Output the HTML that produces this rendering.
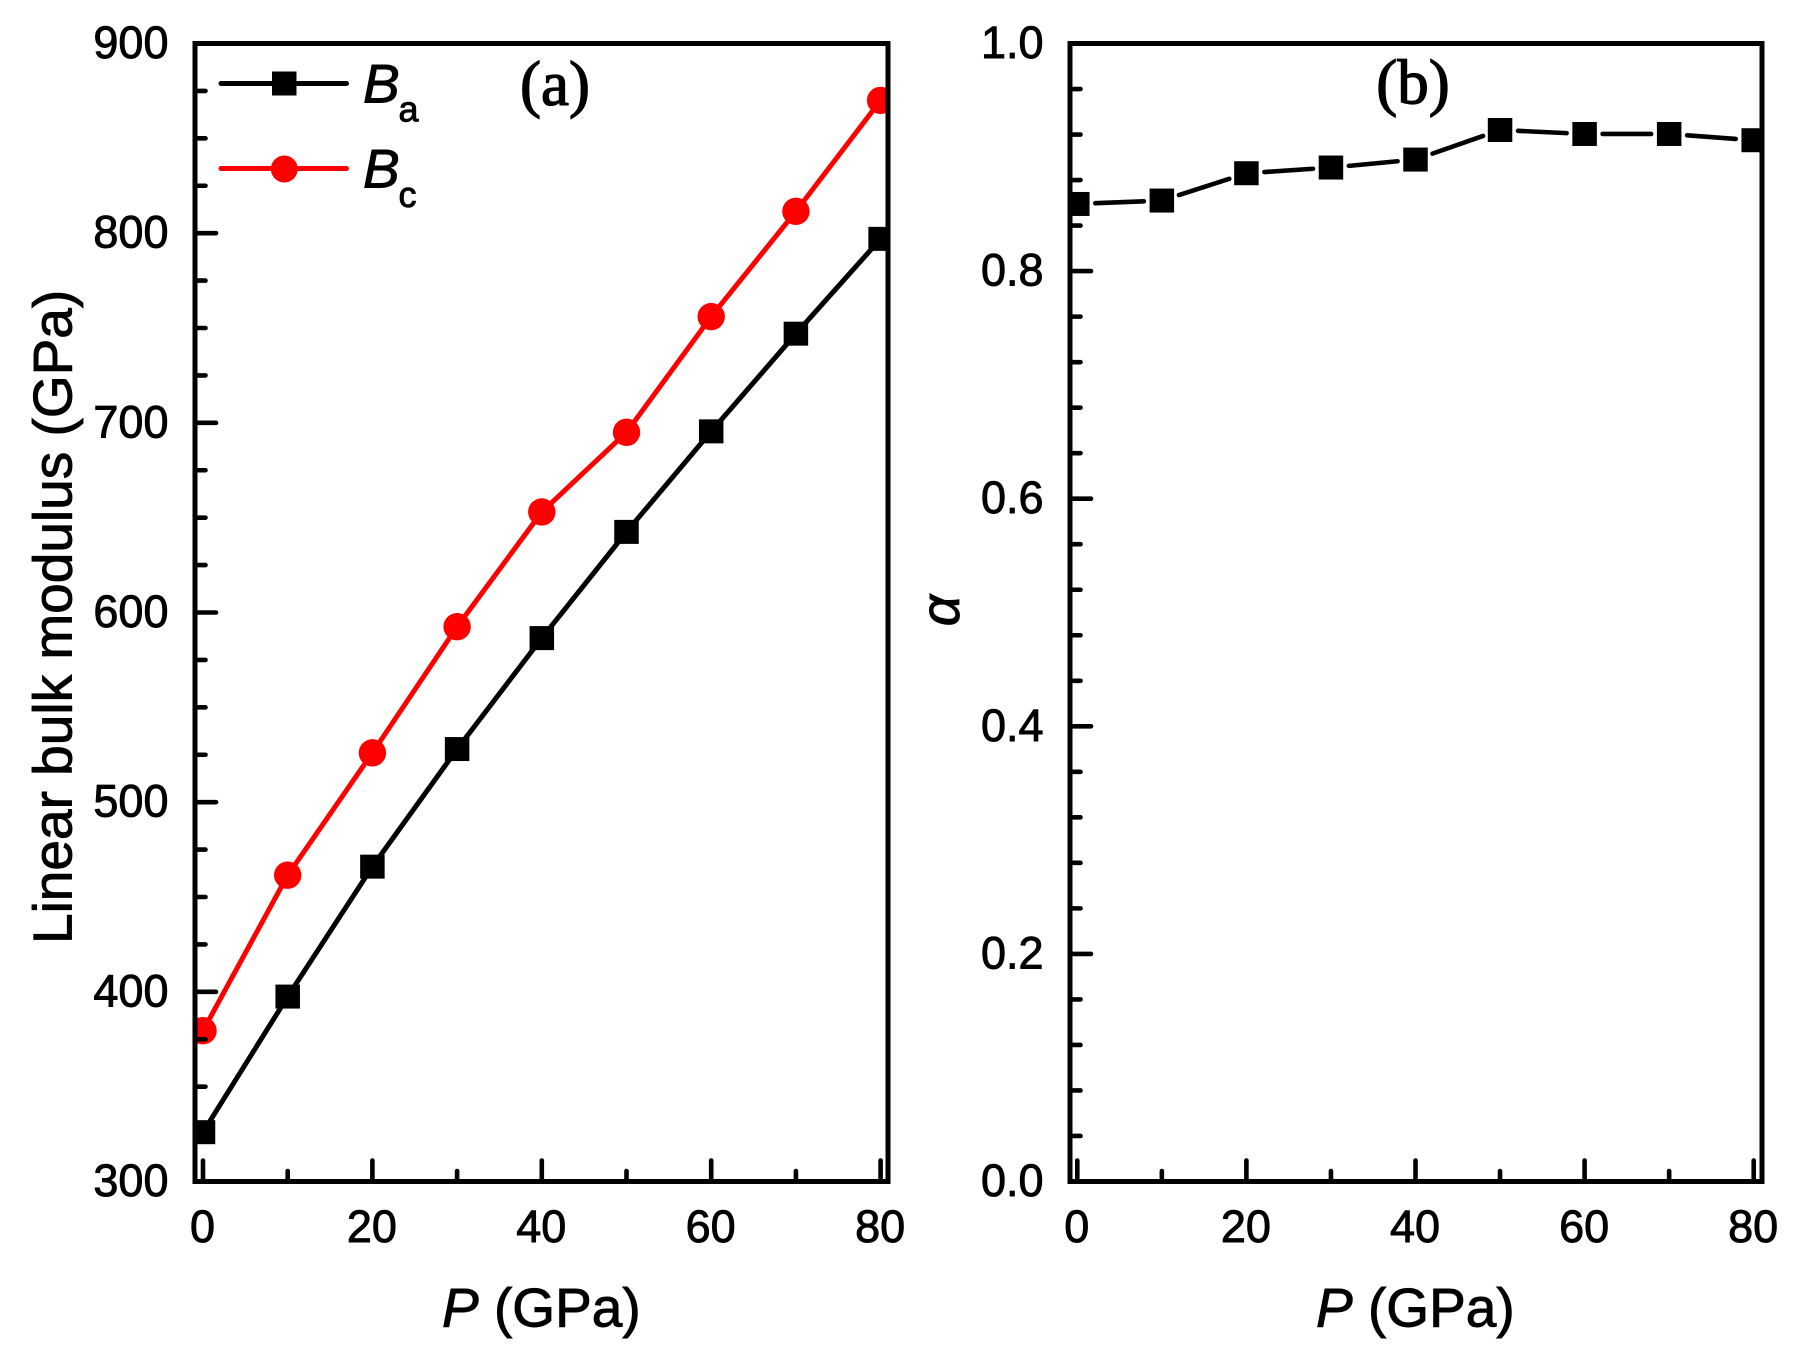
<!DOCTYPE html>
<html lang="en">
<head>
<meta charset="utf-8">
<title>Linear bulk modulus and alpha versus pressure</title>
<style>
html,body{margin:0;padding:0;background:#fff;}
svg{display:block;}
text{font-family:"Liberation Sans",Arial,sans-serif;fill:#000;stroke:#000;stroke-width:0.9px;}
.serif{font-family:"Liberation Serif","Times New Roman",serif;stroke-width:1.3px;}
.tick-label{font-size:45px;}
.axis-title{font-size:55px;}
</style>
</head>
<body>
<svg id="chart" xmlns="http://www.w3.org/2000/svg" width="1794" height="1361" viewBox="0 0 1794 1361">
  <defs>
    <clipPath id="clip-a"><rect x="195" y="43.5" width="693" height="1138"/></clipPath>
    <clipPath id="clip-b"><rect x="1070" y="43.5" width="692" height="1138"/></clipPath>
  </defs>
  <g id="panel-a"></g>
  <g id="panel-b"></g>

  <text class="axis-title" transform="translate(71.5,944) rotate(-90)">Linear bulk modulus (GPa)</text>
  <text class="axis-title" x="442" y="1326.5"><tspan font-style="italic">P</tspan> (GPa)</text>
  <text class="serif" font-size="63" x="555" y="105" text-anchor="middle">(a)</text>

  <text class="axis-title" font-style="italic" text-anchor="middle" transform="translate(959,610.5) rotate(-90)">α</text>
  <text class="axis-title" x="1316" y="1326.5"><tspan font-style="italic">P</tspan> (GPa)</text>
  <text class="serif" font-size="63" x="1413" y="103.5" text-anchor="middle">(b)</text>

  <g>
    <g>
      <line x1="221" y1="83.5" x2="346.5" y2="83.5" stroke="#000" stroke-width="5" stroke-linecap="round"/>
      <rect x="272" y="71.5" width="24.5" height="24" fill="#000"/>
      <text x="363" y="102.5" font-size="55" font-style="italic">B</text>
      <text x="398.5" y="121.5" font-size="36">a</text>
    </g>
    <g>
      <line x1="221" y1="168.5" x2="346.5" y2="168.5" stroke="#f00" stroke-width="5" stroke-linecap="round"/>
      <circle cx="284.3" cy="169" r="13.5" fill="#f00"/>
      <text x="363" y="187.5" font-size="55" font-style="italic">B</text>
      <text x="398.5" y="207" font-size="36">c</text>
    </g>
  </g>
</svg>
<script>
const pressures = [0, 10, 20, 30, 40, 50, 60, 70, 80];
const bulkModulusA = [326, 397.5, 466, 528, 586.5, 642.5, 695.5, 747, 797];
const bulkModulusC = [379.5, 461.5, 526, 592.5, 653, 695, 756, 811.5, 870];
const alphaValues = [0.859, 0.862, 0.886, 0.891, 0.898, 0.924, 0.9205, 0.9205, 0.915];
const xMajorTicks = [0, 20, 40, 60, 80];
const xMinorTicks = [10, 30, 50, 70];
const yMajorTicksA = [300, 400, 500, 600, 700, 800, 900];
const yMinorTicksA = [325, 350, 375, 425, 450, 475, 525, 550, 575, 625, 650, 675, 725, 750, 775, 825, 850, 875];
const yMajorTicksB = [0, 0.2, 0.4, 0.6, 0.8, 1];
const yMinorTicksB = [0.04, 0.08, 0.12, 0.16, 0.24, 0.28, 0.32, 0.36, 0.44, 0.48, 0.52, 0.56, 0.64, 0.68, 0.72, 0.76, 0.84, 0.88, 0.92, 0.96];
const yLabelsB = ['0.0', '0.2', '0.4', '0.6', '0.8', '1.0'];

const NS = 'http://www.w3.org/2000/svg';
const Y_TOP = 43.5, Y_BOTTOM = 1181.5;

function xA(v) { return 203 + v * 8.47; }
function xB(v) { return 1077.3 + v * 8.455; }
function yA(v) { return Y_BOTTOM - (v - 300) * (Y_BOTTOM - Y_TOP) / 600; }
function yB(v) { return Y_BOTTOM - v * (Y_BOTTOM - Y_TOP); }

function make(tag, parent) {
  const el = document.createElementNS(NS, tag);
  parent.appendChild(el);
  return el;
}
function setLine(el, x1, y1, x2, y2, color, width) {
  el.setAttribute('x1', x1);
  el.setAttribute('y1', y1);
  el.setAttribute('x2', x2);
  el.setAttribute('y2', y2);
  el.setAttribute('stroke', color);
  el.setAttribute('stroke-width', width);
  el.setAttribute('stroke-linecap', 'round');
}
function setSquare(el, cx, cy) {
  el.setAttribute('x', cx - 12.25);
  el.setAttribute('y', cy - 12);
  el.setAttribute('width', 24.5);
  el.setAttribute('height', 24);
  el.setAttribute('fill', '#000');
}

function drawAxes(panel, frameX, frameW, xScale, yScale, yMajor, yMinor, yLabelText) {
  const axisLeft = frameX;
  xMajorTicks.forEach(function (v) {
    const t = make('line', panel);
    
    
    setLine(t, xScale(v), Y_BOTTOM, xScale(v), Y_BOTTOM - 21, '#000', 4.6);
    const lab = make('text', panel);
    
    
    lab.setAttribute('class', 'tick-label');
    lab.setAttribute('x', xScale(v) - 0.5);
    lab.setAttribute('y', 1242);
    lab.setAttribute('text-anchor', 'middle');
    lab.textContent = String(v);
  });
  xMinorTicks.forEach(function (v) {
    const t = make('line', panel);
    
    
    setLine(t, xScale(v), Y_BOTTOM, xScale(v), Y_BOTTOM - 10.5, '#000', 4.6);
  });
  yMajor.forEach(function (v, i) {
    const t = make('line', panel);
    
    
    setLine(t, axisLeft, yScale(v), axisLeft + 21, yScale(v), '#000', 4.6);
    const lab = make('text', panel);
    
    
    lab.setAttribute('class', 'tick-label');
    lab.setAttribute('x', axisLeft - 26.5);
    lab.setAttribute('y', yScale(v) + 14.5);
    lab.setAttribute('text-anchor', 'end');
    lab.textContent = yLabelText(v, i);
  });
  yMinor.forEach(function (v) {
    const t = make('line', panel);
    
    
    setLine(t, axisLeft, yScale(v), axisLeft + 10.5, yScale(v), '#000', 4.6);
  });
}

function drawFrame(panel, frameX, frameW, name) {
  const f = make('rect', panel);
  
  
  f.setAttribute('x', frameX);
  f.setAttribute('y', Y_TOP);
  f.setAttribute('width', frameW);
  f.setAttribute('height', Y_BOTTOM - Y_TOP);
  f.setAttribute('fill', 'none');
  f.setAttribute('stroke', '#000');
  f.setAttribute('stroke-width', 5);
}

/* Panel (a) */
const panelA = document.getElementById('panel-a');
const seriesGroupA = make('g', panelA);


seriesGroupA.setAttribute('clip-path', 'url(#clip-a)');

const lineBa = make('polyline', seriesGroupA);


lineBa.setAttribute('fill', 'none');
lineBa.setAttribute('stroke', '#000');
lineBa.setAttribute('stroke-width', 5);
lineBa.setAttribute('points', pressures.map(function (p, i) { return xA(p) + ',' + yA(bulkModulusA[i]); }).join(' '));

pressures.forEach(function (p, i) {
  const m = make('rect', seriesGroupA);
  
  
  setSquare(m, xA(p), yA(bulkModulusA[i]));
});

const lineBc = make('polyline', seriesGroupA);


lineBc.setAttribute('fill', 'none');
lineBc.setAttribute('stroke', '#f00');
lineBc.setAttribute('stroke-width', 5);
lineBc.setAttribute('points', pressures.map(function (p, i) { return xA(p) + ',' + yA(bulkModulusC[i]); }).join(' '));

pressures.forEach(function (p, i) {
  const m = make('circle', seriesGroupA);
  
  
  m.setAttribute('cx', xA(p));
  m.setAttribute('cy', yA(bulkModulusC[i]));
  m.setAttribute('r', 13.7);
  m.setAttribute('fill', '#f00');
});

drawAxes(panelA, 195, 693, xA, yA, yMajorTicksA, yMinorTicksA, function (v) { return String(v); });
drawFrame(panelA, 195, 693, 'panel-a-frame');

/* Panel (b) */
const panelB = document.getElementById('panel-b');
const seriesGroupB = make('g', panelB);


seriesGroupB.setAttribute('clip-path', 'url(#clip-b)');

const GAP = 18;
pressures.slice(1).forEach(function (p, k) {
  const x0 = xB(pressures[k]), y0 = yB(alphaValues[k]);
  const x1 = xB(p), y1 = yB(alphaValues[k + 1]);
  const len = Math.hypot(x1 - x0, y1 - y0);
  const ux = (x1 - x0) / len, uy = (y1 - y0) / len;
  const seg = make('line', seriesGroupB);
  
  
  setLine(seg, x0 + ux * GAP, y0 + uy * GAP, x1 - ux * GAP, y1 - uy * GAP, '#000', 4.6);
});
pressures.forEach(function (p, i) {
  const m = make('rect', seriesGroupB);
  
  
  setSquare(m, xB(p), yB(alphaValues[i]));
});

drawAxes(panelB, 1070, 692, xB, yB, yMajorTicksB, yMinorTicksB, function (v, i) { return yLabelsB[i]; });
drawFrame(panelB, 1070, 692, 'panel-b-frame');
</script>
</body>
</html>
